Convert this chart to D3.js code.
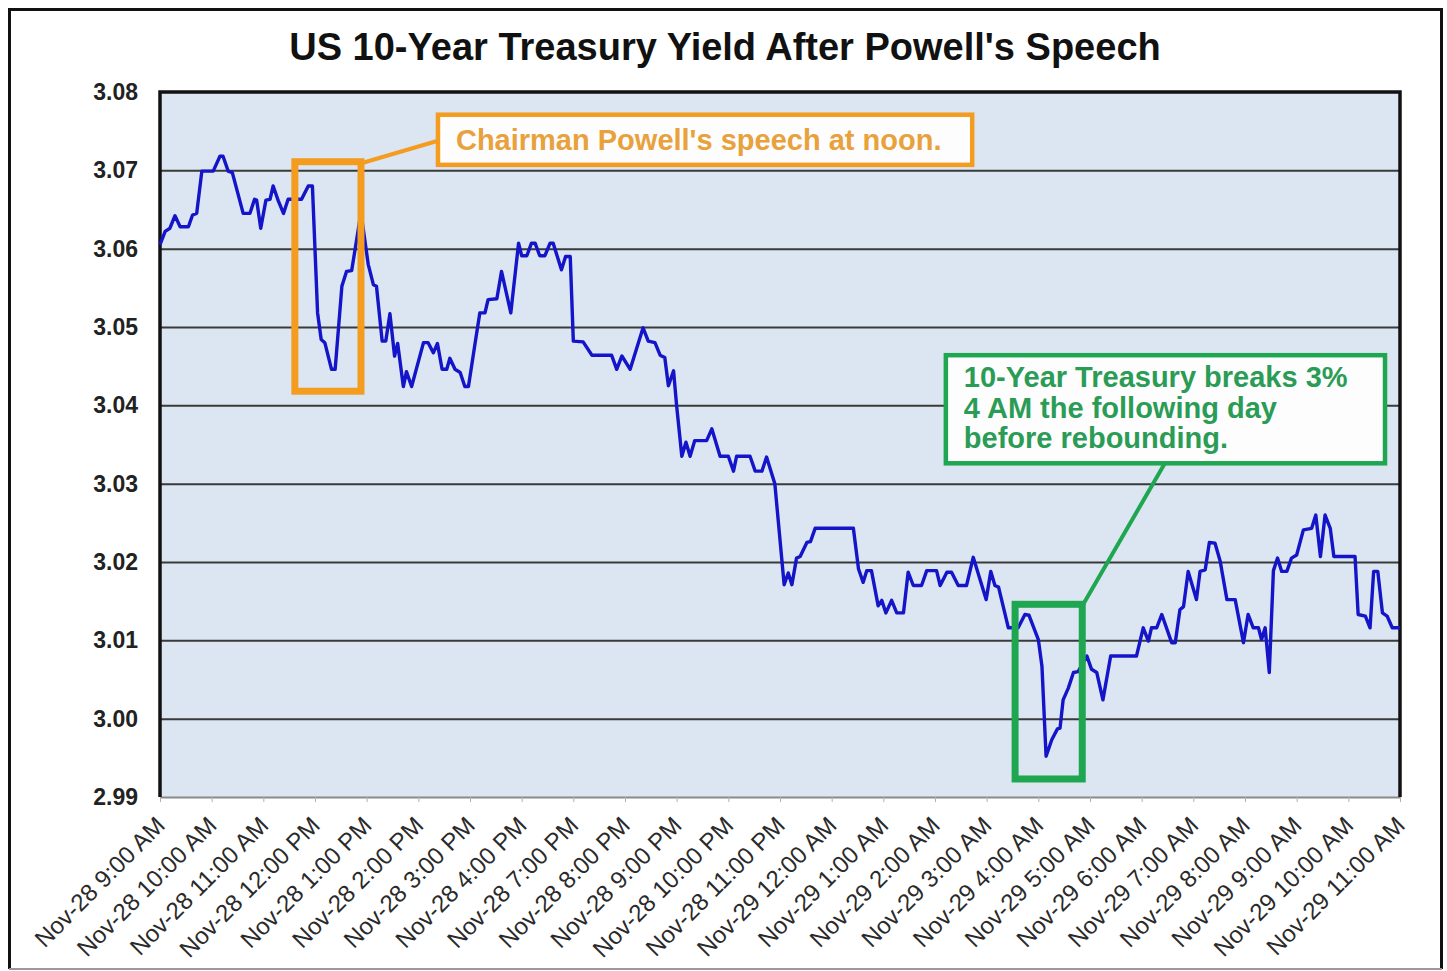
<!DOCTYPE html>
<html>
<head>
<meta charset="utf-8">
<script src="https://cdn.jsdelivr.net/npm/d3@7"></script>
<style>
  body { margin: 0; background: #fff; }
  svg { font-family: "Liberation Sans", Arial, sans-serif; }
  .grid line { stroke: #3a3a3a; stroke-width: 2; }
  .grid .domain { display: none; }
  .grid text { font-size: 23px; font-weight: bold; fill: #222; }
  .x.axis .domain { stroke: #8a8a8a; stroke-width: 2; }
  .x.axis line { stroke: #b0b0b0; }
  .x.axis text { font-size: 24px; fill: #2a2a2a; }
</style>
</head>
<body>
<script>
// hours after Nov-28 9:00 AM (in category slots) and 10-year yield
const hrs = [0.00,0.10,0.19,0.29,0.39,0.55,0.63,0.71,0.81,1.03,1.16,1.22,1.32,1.40,1.61,1.74,1.83,1.87,1.95,2.05,
  2.13,2.19,2.29,2.39,2.48,2.74,2.87,2.95,3.05,3.12,3.19,3.32,3.39,3.52,3.61,3.71,3.89,4.03,4.13,4.19,
  4.30,4.37,4.45,4.54,4.60,4.71,4.77,4.87,5.10,5.19,5.29,5.37,5.46,5.55,5.61,5.71,5.81,5.90,5.97,6.10,
  6.19,6.29,6.35,6.52,6.61,6.79,6.94,7.00,7.10,7.19,7.26,7.35,7.45,7.55,7.61,7.77,7.85,7.94,8.00,8.19,
  8.36,8.74,8.84,8.94,9.10,9.35,9.45,9.58,9.68,9.77,9.84,9.94,10.00,10.10,10.18,10.26,10.35,10.58,10.68,10.84,
  11.00,11.10,11.16,11.42,11.52,11.65,11.74,11.90,12.08,12.16,12.23,12.32,12.39,12.52,12.59,12.68,13.42,13.52,13.61,13.68,
  13.77,13.90,13.97,14.05,14.16,14.26,14.39,14.48,14.58,14.74,14.84,15.03,15.10,15.23,15.32,15.45,15.61,15.74,15.99,16.08,
  16.16,16.23,16.42,16.61,16.74,16.82,17.00,17.07,17.15,17.26,17.37,17.42,17.48,17.58,17.68,17.77,17.94,18.03,18.13,18.25,
  18.40,18.90,19.03,19.13,19.19,19.29,19.39,19.58,19.65,19.74,19.81,19.90,20.06,20.13,20.23,20.31,20.42,20.52,20.65,20.81,
  20.97,21.06,21.16,21.26,21.32,21.39,21.47,21.55,21.63,21.71,21.81,21.90,22.00,22.13,22.29,22.37,22.46,22.55,22.65,22.72,
  23.13,23.19,23.33,23.42,23.49,23.57,23.66,23.75,23.85,24.00]

const yld = [3.0605,3.0622,3.0626,3.0642,3.0628,3.0628,3.0643,3.0645,3.0699,3.0699,3.0718,3.0718,3.0699,3.0697,3.0645,3.0645,3.0663,3.0662,3.0626,3.0662,
  3.0663,3.0680,3.0661,3.0645,3.0663,3.0663,3.0680,3.0680,3.0518,3.0484,3.0480,3.0446,3.0446,3.0552,3.0571,3.0572,3.0646,3.0580,3.0554,3.0552,
  3.0482,3.0482,3.0517,3.0463,3.0479,3.0424,3.0443,3.0424,3.0480,3.0480,3.0467,3.0479,3.0446,3.0446,3.0460,3.0446,3.0442,3.0424,3.0424,3.0480,
  3.0518,3.0518,3.0535,3.0536,3.0571,3.0518,3.0607,3.0591,3.0591,3.0607,3.0607,3.0591,3.0591,3.0607,3.0607,3.0573,3.0590,3.0590,3.0482,3.0481,
  3.0464,3.0464,3.0446,3.0463,3.0446,3.0499,3.0482,3.0480,3.0464,3.0461,3.0425,3.0444,3.0399,3.0335,3.0353,3.0335,3.0355,3.0355,3.0370,3.0335,
  3.0335,3.0316,3.0335,3.0335,3.0316,3.0316,3.0334,3.0300,3.0171,3.0186,3.0171,3.0205,3.0207,3.0225,3.0226,3.0243,3.0243,3.0191,3.0174,3.0189,
  3.0189,3.0144,3.0151,3.0135,3.0151,3.0135,3.0135,3.0187,3.0170,3.0170,3.0189,3.0189,3.0170,3.0187,3.0187,3.0170,3.0170,3.0206,3.0152,3.0188,
  3.0170,3.0168,3.0116,3.0116,3.0133,3.0132,3.0101,3.0067,2.9952,2.9973,2.9987,2.9988,3.0024,3.0039,3.0059,3.0060,3.0080,3.0063,3.0059,3.0024,
  3.0080,3.0080,3.0116,3.0099,3.0116,3.0116,3.0133,3.0097,3.0097,3.0139,3.0143,3.0188,3.0152,3.0188,3.0190,3.0225,3.0224,3.0201,3.0152,3.0152,
  3.0097,3.0133,3.0116,3.0116,3.0101,3.0116,3.0059,3.0189,3.0205,3.0188,3.0188,3.0205,3.0209,3.0241,3.0243,3.0260,3.0207,3.0260,3.0243,3.0207,
  3.0207,3.0133,3.0131,3.0116,3.0188,3.0188,3.0135,3.0131,3.0116,3.0116]

const xLabels = ['Nov-28 9:00 AM','Nov-28 10:00 AM','Nov-28 11:00 AM','Nov-28 12:00 PM','Nov-28 1:00 PM',
  'Nov-28 2:00 PM','Nov-28 3:00 PM','Nov-28 4:00 PM','Nov-28 7:00 PM','Nov-28 8:00 PM','Nov-28 9:00 PM',
  'Nov-28 10:00 PM','Nov-28 11:00 PM','Nov-29 12:00 AM','Nov-29 1:00 AM','Nov-29 2:00 AM','Nov-29 3:00 AM',
  'Nov-29 4:00 AM','Nov-29 5:00 AM','Nov-29 6:00 AM','Nov-29 7:00 AM','Nov-29 8:00 AM','Nov-29 9:00 AM',
  'Nov-29 10:00 AM','Nov-29 11:00 AM']

const yTicks = [2.99,3.00,3.01,3.02,3.03,3.04,3.05,3.06,3.07,3.08]

// highlight boxes and callouts, in data units [h0, h1, yTop, yBottom]
const speechBox = [2.61, 3.89, 3.0711, 3.0418]
const speechNote = [5.38, 15.72, 3.0771, 3.0707]
const speechText = ["Chairman Powell's speech at noon."]
const breakBox = [16.55, 17.85, 3.0146, 2.9923]
const breakNote = [15.21, 23.71, 3.0464, 3.0326]
const breakText = ['10-Year Treasury breaks 3%', '4 AM the following day', 'before rebounding.']

const W = 1447, H = 971
const margin = {top: 92, right: 47, bottom: 174, left: 160},
  width = W - margin.left - margin.right,
  height = H - margin.top - margin.bottom

const svg = d3.select('body').append('svg')
    .attr('width', W)
    .attr('height', H)

// outer frame
svg.append('rect')
    .attr('x', 0).attr('y', 0).attr('width', W).attr('height', H)
    .style('fill', '#fff')
svg.append('path')
    .attr('d', `M9.5,969 V9.5 H1441.5 V969`)
    .style('fill', 'none').style('stroke', '#111').style('stroke-width', 3)
svg.append('line')
    .attr('x1', 9).attr('x2', 1442).attr('y1', 969).attr('y2', 969)
    .style('stroke', '#999').style('stroke-width', 2)

// title
svg.append('text')
    .attr('x', 725).attr('y', 60)
    .attr('text-anchor', 'middle')
    .style('font-size', '38px').style('font-weight', 'bold').style('fill', '#111')
    .text("US 10-Year Treasury Yield After Powell's Speech")

const g = svg.append('g')
    .attr('transform', `translate(${margin.left},${margin.top})`)

const x = d3.scaleLinear().domain([0, 24]).range([0, width])
const y = d3.scaleLinear().domain([2.99, 3.08]).range([height, 0])

g.append('rect')
    .attr('width', width).attr('height', height)
    .style('fill', '#dce6f2')

// gridlines + y labels
g.append('g')
    .attr('class', 'grid')
    .call(d3.axisLeft(y)
      .tickValues(yTicks)
      .tickSize(-width)
      .tickPadding(22)
      .tickFormat(d3.format('.2f')))
  .selectAll('.tick line')
    .filter(d => d === 2.99 || d === 3.08)
    .remove()

// x axis
const xAxis = g.append('g')
    .attr('class', 'x axis')
    .attr('transform', `translate(0,${height})`)
    .call(d3.axisBottom(x)
      .tickValues(d3.range(xLabels.length))
      .tickSize(5)
      .tickSizeOuter(0)
      .tickFormat(i => xLabels[i]))

xAxis.selectAll('text')
    .attr('x', 0).attr('y', 0).attr('dy', '0.35em')
    .attr('text-anchor', 'end')
    .attr('transform', 'translate(0,24) rotate(-45)')

// plot border (left, top, right)
g.append('path')
    .attr('d', `M0,${height} V0 H${width} V${height}`)
    .style('fill', 'none').style('stroke', '#111').style('stroke-width', 3.5)

// the yield line
const data = hrs.map((h, i) => ({h: h, v: yld[i]}))
const line = d3.line().x(d => x(d.h)).y(d => y(d.v))
g.append('path')
    .datum(data)
    .attr('d', line)
    .style('fill', 'none')
    .style('stroke', '#1414c8')
    .style('stroke-width', 3.4)
    .style('stroke-linejoin', 'round')

// annotations
function callout(box, note, lines, color, textColor, fontSize, lead) {
  const a = g.append('g')
  a.append('line')
      .attr('x1', lead[0]).attr('y1', lead[1])
      .attr('x2', lead[2]).attr('y2', lead[3])
      .style('stroke', color).style('stroke-width', 4)
  a.append('rect')
      .attr('x', x(box[0])).attr('y', y(box[2]))
      .attr('width', x(box[1]) - x(box[0]))
      .attr('height', y(box[3]) - y(box[2]))
      .style('fill', 'none').style('stroke', color).style('stroke-width', 7)
  a.append('rect')
      .attr('x', x(note[0])).attr('y', y(note[2]))
      .attr('width', x(note[1]) - x(note[0]))
      .attr('height', y(note[3]) - y(note[2]))
      .style('fill', '#fdfdfd').style('stroke', color).style('stroke-width', 4.5)
  const t = a.append('text')
      .style('font-size', fontSize + 'px').style('font-weight', 'bold')
      .style('fill', textColor)
  lines.forEach((s, i) => {
    t.append('tspan')
        .attr('x', x(note[0]) + 18)
        .attr('y', y(note[2]) + (lines.length === 1 ? 35 : 32 + i * 30.5))
        .text(s)
  })
}

callout(speechBox, speechNote, speechText, '#f39c1f', '#e9a13c', 29,
  [x(speechBox[1]) + 2, y(speechBox[2]) + 1, x(speechNote[0]), y(speechNote[2]) + 26])

callout(breakBox, breakNote, breakText, '#1ea650', '#2a9c55', 29,
  [x(breakBox[1]) + 1, y(breakBox[2]), x(breakNote[0]) + 219, y(breakNote[3])])
</script>
</body>
</html>
